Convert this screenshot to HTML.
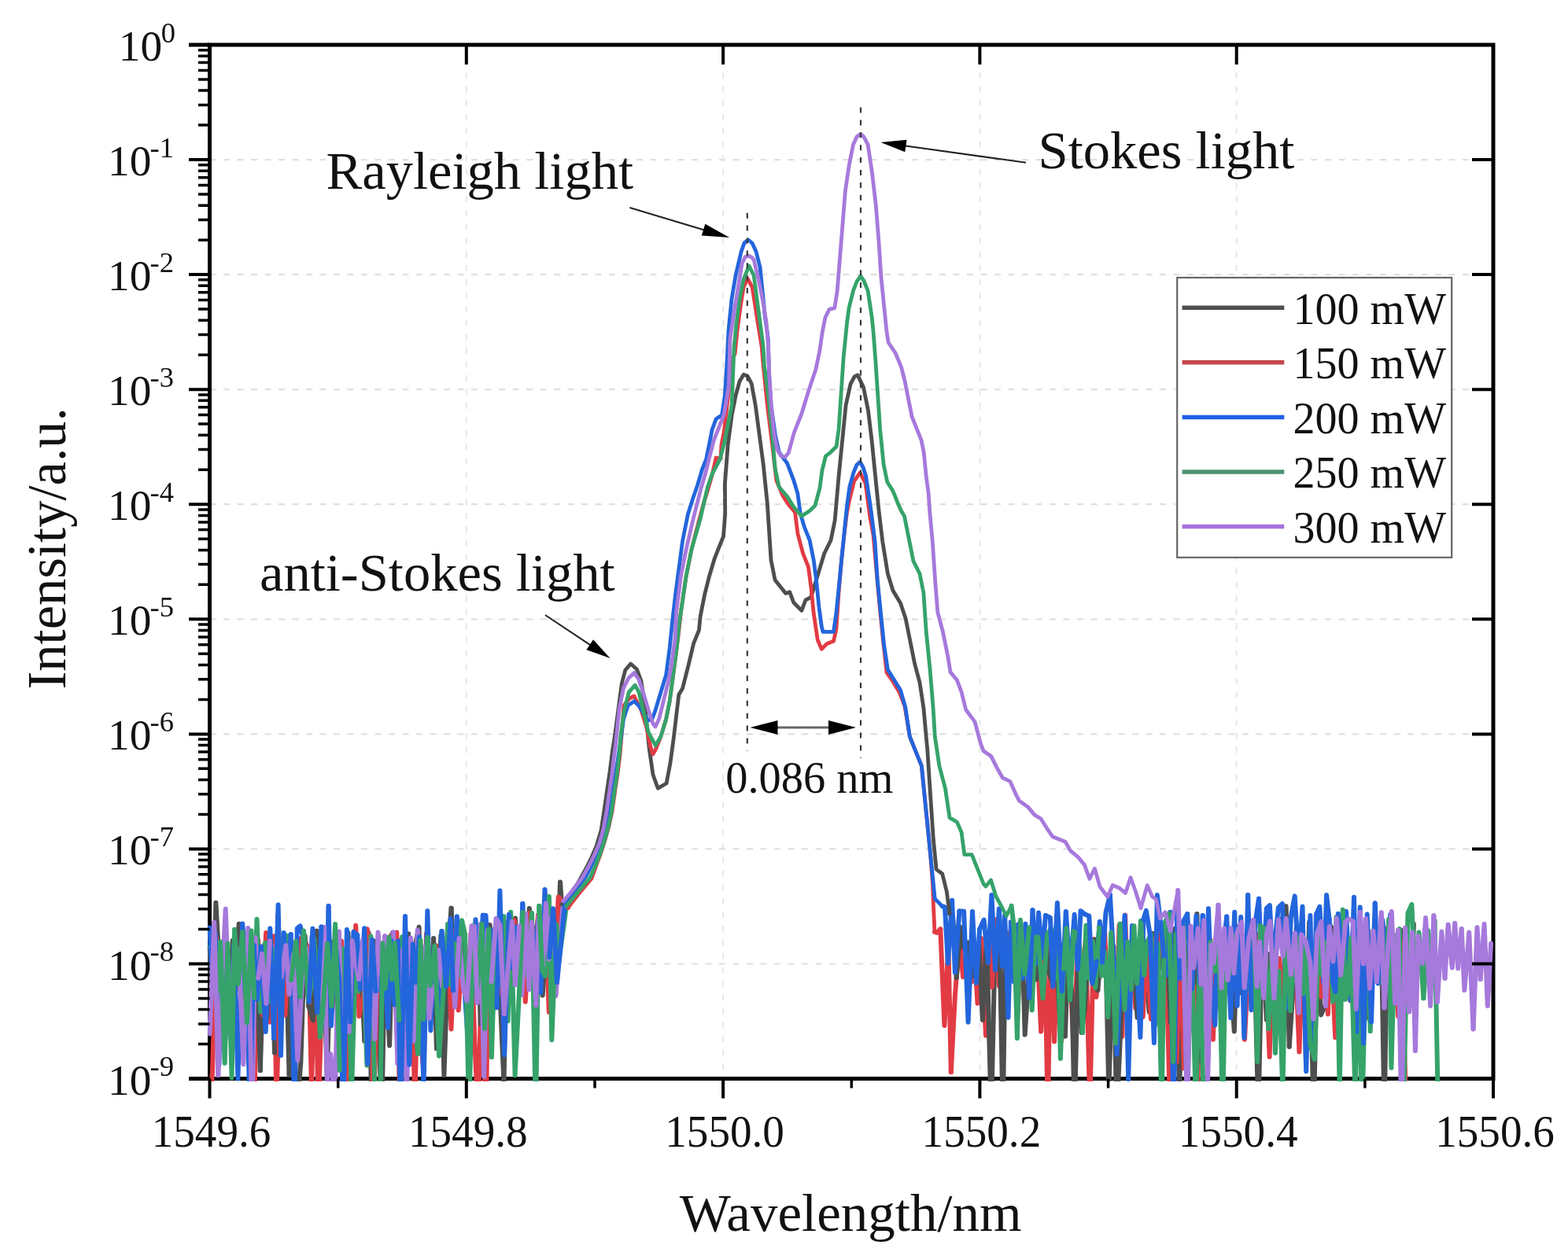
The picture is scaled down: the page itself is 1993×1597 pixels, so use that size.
<!DOCTYPE html>
<html><head><meta charset="utf-8"><style>
html,body{margin:0;padding:0;background:#fff;overflow:hidden;}
svg{display:block;}
text{font-family:"Liberation Serif","Times New Roman",serif;fill:#111;}
.grid{stroke-width:2.2;stroke-dasharray:8 9.5;}
.vd{stroke:#3a3a3a;stroke-width:2.2;stroke-dasharray:7 8.9;}
</style></head><body>
<svg width="1993" height="1597" viewBox="0 0 1993 1597" xmlns="http://www.w3.org/2000/svg">
<rect width="1993" height="1597" fill="#fff"/>
<defs><clipPath id="pc"><rect x="263.5" y="57.0" width="1634.5" height="1318.04"/></clipPath></defs>
<line x1="592.8" y1="57.0" x2="592.8" y2="1371.54" class="grid" stroke="#e9e9e9"/>
<line x1="919.1" y1="57.0" x2="919.1" y2="1371.54" class="grid" stroke="#e9e9e9"/>
<line x1="1245.4" y1="57.0" x2="1245.4" y2="1371.54" class="grid" stroke="#e9e9e9"/>
<line x1="1571.7" y1="57.0" x2="1571.7" y2="1371.54" class="grid" stroke="#e9e9e9"/>
<line x1="266.5" y1="203.1" x2="1898.0" y2="203.1" class="grid" stroke="#e0e0e0"/>
<line x1="266.5" y1="349.1" x2="1898.0" y2="349.1" class="grid" stroke="#e0e0e0"/>
<line x1="266.5" y1="495.2" x2="1898.0" y2="495.2" class="grid" stroke="#e0e0e0"/>
<line x1="266.5" y1="641.2" x2="1898.0" y2="641.2" class="grid" stroke="#e0e0e0"/>
<line x1="266.5" y1="787.3" x2="1898.0" y2="787.3" class="grid" stroke="#e0e0e0"/>
<line x1="266.5" y1="933.4" x2="1898.0" y2="933.4" class="grid" stroke="#e0e0e0"/>
<line x1="266.5" y1="1079.4" x2="1898.0" y2="1079.4" class="grid" stroke="#e0e0e0"/>
<line x1="266.5" y1="1225.5" x2="1898.0" y2="1225.5" class="grid" stroke="#e0e0e0"/>
<path d="M266.5,57.0H1898.0V1371.54H266.5Z" fill="none" stroke="#000" stroke-width="5"/>
<line x1="240" y1="57.0" x2="266.5" y2="57.0" stroke="#000" stroke-width="5"/>
<line x1="240" y1="1371.54" x2="266.5" y2="1371.54" stroke="#000" stroke-width="5"/>
<g clip-path="url(#pc)" fill="none" stroke-width="6" stroke-linejoin="round" stroke-linecap="round">
<path d="M1399.3,1189.9L1404.0,1182.3L1407.9,1274.2L1413.0,1198.0" stroke="#e23b44"/>
<path d="M504.2,1185.8L508.0,1399.1L513.2,1196.4L518.0,1248.4L522.7,1200.0L527.3,1410.4" stroke="#e23b44"/>
<path d="M1433.9,1277.5L1439.7,1218.3L1443.3,1281.9L1448.9,1195.0" stroke="#e23b44"/>
<path d="M330.8,1361.1L335.7,1202.0L339.4,1294.3" stroke="#4d4f4e"/>
<path d="M1769.5,1291.4L1773.2,1210.9L1777.2,1292.2L1780.7,1185.0L1786.2,1372.1" stroke="#e23b44"/>
<path d="M480.7,1199.4L484.7,1303.2L490.1,1195.9L493.3,1247.3L496.8,1189.8" stroke="#e23b44"/>
<path d="M1234.9,1248.4L1238.2,1202.5L1242.5,1275.7L1247.1,1193.0L1253.0,1316.7L1257.2,1196.8" stroke="#e23b44"/>
<path d="M1708.5,1243.8L1714.3,1196.2L1717.6,1244.0L1722.7,1183.5L1727.9,1197.3L1731.9,1244.3" stroke="#4d4f4e"/>
<path d="M1578.5,1188.4L1582.0,1321.7L1587.9,1197.9L1593.7,1237.1" stroke="#e23b44"/>
<path d="M704.4,1160.2L708.0,1232.3L712.0,1121.5L714.0,1150.0" stroke="#4d4f4e"/>
<path d="M599.6,1184.1L603.2,1180.8L607.0,1192.8" stroke="#4d4f4e"/>
<path d="M684.0,1163.4L689.6,1251.1L692.9,1160.9L697.8,1287.0L701.3,1167.4L706.1,1219.5" stroke="#e23b44"/>
<path d="M1374.6,1267.0L1379.9,1193.1L1385.3,1405.8L1390.0,1194.2L1393.5,1267.7L1399.3,1189.9" stroke="#e23b44"/>
<path d="M1701.7,1190.5L1705.5,1251.4L1710.5,1184.4L1716.3,1272.3L1720.5,1188.3L1724.4,1291.0" stroke="#e23b44"/>
<path d="M1259.9,1420.0L1265.1,1184.8L1270.5,1195.3" stroke="#4d4f4e"/>
<path d="M378.7,1329.1L382.4,1193.0L387.4,1196.9" stroke="#e23b44"/>
<path d="M1530.0,1190.5L1535.2,1189.3L1540.6,1231.3L1545.0,1231.6L1548.9,1190.2" stroke="#4d4f4e"/>
<path d="M1669.7,1420.0L1674.5,1202.4L1679.1,1290.4L1685.0,1277.2" stroke="#4d4f4e"/>
<path d="M1278.0,1194.0L1282.3,1234.9L1287.6,1211.4L1291.8,1206.1" stroke="#4d4f4e"/>
<path d="M1475.9,1185.4L1481.4,1189.3L1487.0,1405.6L1490.6,1220.2" stroke="#e23b44"/>
<path d="M1450.4,1179.7L1455.4,1210.6L1460.6,1286.5L1466.1,1187.1" stroke="#4d4f4e"/>
<path d="M1257.2,1196.8L1260.8,1255.1L1265.4,1169.2L1270.0,1253.8L1274.3,1183.0" stroke="#e23b44"/>
<path d="M1488.0,1300.1L1493.7,1180.4L1499.2,1389.6L1503.4,1202.4L1507.0,1274.6" stroke="#4d4f4e"/>
<path d="M598.6,1186.9L603.5,1327.8L607.7,1420.0L612.0,1237.4" stroke="#e23b44"/>
<path d="M640.5,1377.3L644.0,1173.4L649.9,1257.3L655.0,1167.6L658.4,1236.4L662.9,1179.9" stroke="#4d4f4e"/>
<path d="M349.1,1338.4L353.4,1163.7L358.2,1276.0L362.8,1194.2L367.6,1367.0" stroke="#4d4f4e"/>
<path d="M1685.0,1277.2L1690.4,1176.2L1695.1,1183.1L1700.9,1250.4L1704.4,1169.5L1708.5,1243.8" stroke="#4d4f4e"/>
<path d="M1311.7,1238.1L1317.7,1190.0L1323.2,1311.5L1327.8,1194.9L1331.8,1420.0" stroke="#e23b44"/>
<path d="M395.9,1383.1L401.1,1208.2L404.5,1420.0L409.8,1246.4L415.2,1200.1" stroke="#e23b44"/>
<path d="M685.7,1160.7L689.7,1265.6L695.3,1163.6L700.7,1216.9L704.4,1160.2" stroke="#4d4f4e"/>
<path d="M266.5,1204.7L271.0,1310.4L274.4,1147.8L279.8,1245.1L285.0,1197.5" stroke="#4d4f4e"/>
<path d="M387.4,1196.9L392.1,1205.8L395.9,1383.1" stroke="#e23b44"/>
<path d="M1466.1,1187.1L1469.4,1289.8L1473.3,1183.9L1477.2,1230.7" stroke="#4d4f4e"/>
<path d="M496.8,1189.8L500.3,1258.0L504.2,1185.8" stroke="#e23b44"/>
<path d="M573.6,1154.8L579.1,1264.8L584.5,1177.1" stroke="#4d4f4e"/>
<path d="M1724.4,1291.0L1729.0,1187.0L1733.1,1236.9L1738.5,1182.0L1744.2,1247.3L1748.6,1191.7" stroke="#e23b44"/>
<path d="M1500.4,1194.1L1504.7,1358.5L1508.5,1206.2L1513.2,1239.1L1518.8,1199.5L1522.4,1385.3" stroke="#e23b44"/>
<path d="M1207.0,1161.7L1211.0,1164.8L1215.8,1243.3" stroke="#4d4f4e"/>
<path d="M542.0,1187.2L546.8,1250.0L551.1,1201.4L556.4,1203.1" stroke="#e23b44"/>
<path d="M519.0,1187.4L523.1,1288.0L528.7,1197.0" stroke="#4d4f4e"/>
<path d="M1208.8,1363.1L1213.9,1265.8L1219.5,1192.9L1224.1,1242.2L1229.9,1203.8L1234.9,1248.4" stroke="#e23b44"/>
<path d="M1593.7,1237.1L1599.5,1187.6L1604.2,1263.5L1607.7,1196.1L1613.6,1343.7L1617.9,1187.6" stroke="#e23b44"/>
<path d="M1395.3,1259.2L1401.2,1190.5L1406.1,1239.8L1409.3,1386.7L1415.2,1203.5" stroke="#4d4f4e"/>
<path d="M1551.3,1282.2L1555.6,1192.2L1560.8,1259.5L1565.4,1205.4L1569.8,1274.0" stroke="#e23b44"/>
<path d="M556.4,1203.1L561.7,1277.1L565.2,1249.2" stroke="#e23b44"/>
<path d="M434.8,1271.2L438.4,1291.5L442.4,1186.3L446.5,1284.8L450.8,1278.9L454.3,1204.6" stroke="#4d4f4e"/>
<path d="M322.8,1420.0L328.1,1195.3L333.9,1290.2" stroke="#e23b44"/>
<path d="M320.1,1279.0L325.2,1200.8L330.8,1361.1" stroke="#4d4f4e"/>
<path d="M1426.3,1317.6L1430.1,1163.6L1433.9,1277.5" stroke="#e23b44"/>
<path d="M288.6,1283.3L291.9,1210.1L297.6,1293.5L301.5,1182.0L306.1,1214.5L311.5,1331.2" stroke="#e23b44"/>
<path d="M415.2,1200.1L420.4,1276.7L426.3,1255.7L430.5,1307.1L434.0,1196.6L439.3,1396.0" stroke="#e23b44"/>
<path d="M527.3,1410.4L531.4,1202.4L534.6,1320.2L538.7,1364.4L542.0,1187.2" stroke="#e23b44"/>
<path d="M1569.8,1274.0L1575.1,1181.7L1578.5,1188.4" stroke="#e23b44"/>
<path d="M1354.7,1275.9L1359.1,1209.0L1365.0,1342.2L1369.8,1193.2L1374.6,1267.0" stroke="#e23b44"/>
<path d="M333.9,1290.2L338.1,1186.1L342.6,1299.5L347.8,1190.2L351.4,1400.0" stroke="#e23b44"/>
<path d="M1785.1,1188.7L1788.6,1237.3L1793.3,1277.0L1796.9,1175.0" stroke="#4d4f4e"/>
<path d="M1291.8,1206.1L1295.3,1234.0L1299.0,1183.9L1302.7,1315.6L1307.7,1238.1L1311.5,1184.4" stroke="#4d4f4e"/>
<path d="M509.7,1195.2L514.0,1271.4L519.0,1187.4" stroke="#4d4f4e"/>
<path d="M1740.1,1294.9L1744.7,1196.0L1750.3,1247.2" stroke="#4d4f4e"/>
<path d="M1651.3,1246.3L1655.3,1163.3L1660.0,1350.6L1664.1,1172.4L1669.7,1420.0" stroke="#4d4f4e"/>
<path d="M622.4,1176.3L626.9,1235.4L630.3,1206.3L634.7,1245.4L640.5,1377.3" stroke="#4d4f4e"/>
<path d="M439.3,1396.0L444.9,1200.3L448.7,1315.3L452.2,1176.8L456.5,1292.0" stroke="#e23b44"/>
<path d="M551.1,1193.3L554.9,1333.3L560.4,1189.3L564.4,1367.2L570.3,1195.7L573.6,1154.8" stroke="#4d4f4e"/>
<path d="M285.0,1197.5L288.3,1220.3L292.5,1260.1L295.8,1196.1" stroke="#4d4f4e"/>
<path d="M1448.9,1195.0L1452.7,1292.9L1457.1,1207.2L1463.0,1295.5" stroke="#e23b44"/>
<path d="M477.1,1196.7L481.2,1306.8L485.2,1420.0" stroke="#4d4f4e"/>
<path d="M1463.0,1295.5L1467.1,1193.9L1471.2,1246.0L1475.9,1185.4" stroke="#e23b44"/>
<path d="M1274.3,1183.0L1279.1,1185.5L1284.0,1239.0L1287.8,1210.3" stroke="#e23b44"/>
<path d="M662.9,1179.9L668.7,1239.4L672.8,1154.9L676.9,1246.5" stroke="#4d4f4e"/>
<path d="M1195.3,1181.4L1200.4,1304.0L1205.4,1202.2L1208.8,1363.1" stroke="#e23b44"/>
<path d="M588.5,1190.4L594.1,1257.5L598.6,1186.9" stroke="#e23b44"/>
<path d="M1331.8,1420.0L1335.5,1189.3L1340.1,1324.3L1343.9,1216.6L1349.0,1323.8L1354.7,1275.9" stroke="#e23b44"/>
<path d="M1413.0,1198.0L1418.3,1315.8L1422.6,1176.5L1426.3,1317.6" stroke="#e23b44"/>
<path d="M643.6,1249.7L649.0,1168.5L653.9,1169.9L658.5,1250.3" stroke="#e23b44"/>
<path d="M392.3,1279.4L398.0,1297.3L402.6,1183.7" stroke="#4d4f4e"/>
<path d="M612.0,1237.4L617.7,1420.0L621.3,1193.1L626.4,1285.9L631.0,1189.3" stroke="#e23b44"/>
<path d="M1522.4,1385.3L1526.2,1185.6L1530.3,1201.7L1534.3,1250.8" stroke="#e23b44"/>
<path d="M367.6,1367.0L372.2,1207.8L376.9,1420.0" stroke="#4d4f4e"/>
<path d="M1248.9,1296.5L1254.0,1190.3L1259.9,1420.0" stroke="#4d4f4e"/>
<path d="M1534.3,1250.8L1538.4,1195.5L1541.9,1321.6L1546.3,1179.3L1551.3,1282.2" stroke="#e23b44"/>
<path d="M1748.6,1191.7L1751.9,1202.8L1755.6,1244.7L1759.8,1180.1L1763.7,1195.9L1769.5,1291.4" stroke="#e23b44"/>
<path d="M1731.9,1244.3L1736.3,1179.9L1740.1,1294.9" stroke="#4d4f4e"/>
<path d="M351.4,1400.0L357.2,1198.7L362.4,1290.6L367.4,1189.9L373.2,1308.5L378.7,1329.1" stroke="#e23b44"/>
<path d="M1287.8,1210.3L1293.7,1284.2L1297.4,1204.3L1303.1,1235.5L1308.5,1190.2L1311.7,1238.1" stroke="#e23b44"/>
<path d="M266.5,1420.0L270.0,1362.3L275.0,1192.6L278.7,1281.6L283.9,1212.0L288.6,1283.3" stroke="#e23b44"/>
<path d="M528.7,1197.0L532.5,1178.8L536.3,1314.6L542.1,1222.6" stroke="#4d4f4e"/>
<path d="M1636.5,1187.8L1640.7,1254.7L1645.6,1195.7L1651.4,1337.5L1655.8,1209.4" stroke="#e23b44"/>
<path d="M1188.0,1185.0L1191.0,1186.0L1195.3,1181.4" stroke="#e23b44"/>
<path d="M565.2,1249.2L570.2,1208.6L573.5,1308.4L578.7,1182.6L582.7,1284.4L588.5,1190.4" stroke="#e23b44"/>
<path d="M1572.8,1178.4L1578.1,1262.5L1583.8,1202.0L1589.0,1239.0L1594.0,1197.0" stroke="#4d4f4e"/>
<path d="M485.2,1420.0L489.3,1209.7L495.1,1329.4L499.0,1186.1L503.8,1256.7L509.7,1195.2" stroke="#4d4f4e"/>
<path d="M706.1,1219.5L709.7,1140.4L722.0,1154.0" stroke="#e23b44"/>
<path d="M584.5,1177.1L588.5,1196.2L594.2,1270.5L599.6,1184.1" stroke="#4d4f4e"/>
<path d="M339.4,1294.3L344.5,1195.8L349.1,1338.4" stroke="#4d4f4e"/>
<path d="M1230.8,1198.8L1235.7,1241.1L1240.4,1234.0L1244.3,1200.1L1248.9,1296.5" stroke="#4d4f4e"/>
<path d="M1215.8,1243.3L1220.8,1178.8L1224.9,1204.9L1230.8,1198.8" stroke="#4d4f4e"/>
<path d="M402.6,1183.7L407.5,1303.8L410.8,1195.0" stroke="#4d4f4e"/>
<path d="M454.3,1204.6L459.8,1246.3L463.4,1323.7" stroke="#4d4f4e"/>
<path d="M676.9,1246.5L681.8,1180.6L685.7,1160.7" stroke="#4d4f4e"/>
<path d="M463.4,1323.7L468.6,1186.3L472.4,1420.0L477.1,1196.7" stroke="#4d4f4e"/>
<path d="M376.9,1420.0L382.3,1351.5L387.6,1189.7L392.3,1279.4" stroke="#4d4f4e"/>
<path d="M1655.8,1209.4L1660.5,1302.9L1664.8,1205.8L1670.8,1265.1" stroke="#e23b44"/>
<path d="M1270.5,1195.3L1274.7,1420.0L1278.0,1194.0" stroke="#4d4f4e"/>
<path d="M456.5,1292.0L462.4,1264.5L466.8,1181.3L470.2,1204.4L474.8,1420.0L480.7,1199.4" stroke="#e23b44"/>
<path d="M1767.1,1236.6L1771.5,1189.4L1774.8,1244.6L1780.5,1182.5L1785.1,1188.7" stroke="#4d4f4e"/>
<path d="M1353.9,1317.4L1357.6,1207.8L1362.5,1265.6L1365.8,1420.0L1371.0,1187.1L1374.7,1312.8" stroke="#4d4f4e"/>
<path d="M1477.2,1230.7L1482.3,1175.8L1488.0,1300.1" stroke="#4d4f4e"/>
<path d="M1490.6,1220.2L1495.5,1350.1L1500.4,1194.1" stroke="#e23b44"/>
<path d="M1679.5,1267.3L1683.5,1204.8L1687.9,1289.4L1691.3,1192.6L1697.2,1319.0L1701.7,1190.5" stroke="#e23b44"/>
<path d="M1604.4,1182.3L1609.9,1296.7L1613.7,1213.0" stroke="#4d4f4e"/>
<path d="M1638.7,1330.8L1642.3,1277.2L1647.9,1178.1L1651.3,1246.3" stroke="#4d4f4e"/>
<path d="M311.5,1331.2L316.9,1197.9L322.8,1420.0" stroke="#e23b44"/>
<path d="M1617.9,1187.6L1621.1,1254.5L1626.3,1218.8L1630.5,1271.0L1636.5,1187.8" stroke="#e23b44"/>
<path d="M295.8,1196.1L299.7,1260.3L303.7,1174.7L308.7,1257.8L314.3,1201.2L320.1,1279.0" stroke="#4d4f4e"/>
<path d="M1435.0,1258.2L1440.7,1195.9L1445.5,1293.7L1450.4,1179.7" stroke="#4d4f4e"/>
<path d="M658.5,1250.3L663.7,1185.9L667.8,1273.7L673.1,1160.8L678.1,1237.7L684.0,1163.4" stroke="#e23b44"/>
<path d="M410.8,1195.0L415.6,1367.3L421.1,1197.4L424.5,1246.0L429.8,1262.8L434.8,1271.2" stroke="#4d4f4e"/>
<path d="M1311.5,1184.4L1317.2,1245.4L1322.8,1217.0L1328.7,1189.9L1332.8,1235.0L1337.6,1248.1" stroke="#4d4f4e"/>
<path d="M1415.2,1203.5L1419.3,1420.0L1424.0,1316.8L1429.3,1190.1L1435.0,1258.2" stroke="#4d4f4e"/>
<path d="M607.0,1192.8L610.9,1301.9L616.7,1255.8L622.4,1176.3" stroke="#4d4f4e"/>
<path d="M1548.9,1190.2L1553.9,1299.2L1559.7,1190.6L1564.3,1242.8L1568.8,1311.4L1572.8,1178.4" stroke="#4d4f4e"/>
<path d="M1374.7,1312.8L1378.6,1283.3L1383.5,1208.5L1387.3,1231.1L1391.7,1194.4L1395.3,1259.2" stroke="#4d4f4e"/>
<path d="M1507.0,1274.6L1512.6,1181.5L1517.1,1250.9L1521.4,1161.9L1525.5,1348.8L1530.0,1190.5" stroke="#4d4f4e"/>
<path d="M1750.3,1247.2L1755.8,1195.8L1759.6,1420.0L1763.2,1182.5L1767.1,1236.6" stroke="#4d4f4e"/>
<path d="M1594.0,1197.0L1599.4,1417.7L1604.4,1182.3" stroke="#4d4f4e"/>
<path d="M631.0,1189.3L634.5,1262.6L638.4,1185.7L643.6,1249.7" stroke="#e23b44"/>
<path d="M542.1,1222.6L547.2,1286.1L551.1,1193.3" stroke="#4d4f4e"/>
<path d="M1613.7,1213.0L1619.1,1255.1L1624.7,1169.9L1629.1,1170.1L1634.6,1152.2L1638.7,1330.8" stroke="#4d4f4e"/>
<path d="M1337.6,1248.1L1341.9,1196.3L1346.4,1285.6L1350.1,1201.6L1353.9,1317.4" stroke="#4d4f4e"/>
<path d="M1670.8,1265.1L1675.3,1200.2L1679.5,1267.3" stroke="#e23b44"/>
<path d="M358.6,1247.8L364.3,1189.6L370.2,1246.2" stroke="#35a36a"/>
<path d="M664.5,1160.3L670.3,1240.6L676.0,1161.0L680.9,1414.5L685.3,1152.1" stroke="#35a36a"/>
<path d="M343.0,1196.4L348.9,1214.1L354.3,1198.6L357.5,1242.6" stroke="#a679dc"/>
<path d="M664.3,1149.1L667.7,1225.1L673.3,1227.2" stroke="#2365dc"/>
<path d="M1783.7,1420.0L1789.5,1160.9L1794.4,1150.0L1798.8,1253.4L1803.5,1185.6L1809.4,1269.3" stroke="#35a36a"/>
<path d="M1600.0,1142.7L1604.5,1247.8L1609.8,1155.0L1613.9,1151.1L1617.9,1229.1L1621.4,1187.5" stroke="#2365dc"/>
<path d="M1424.1,1243.8L1429.6,1164.0L1434.2,1371.9" stroke="#2365dc"/>
<path d="M1685.4,1198.1L1690.7,1196.8L1694.2,1273.6L1698.5,1165.9L1702.7,1385.8" stroke="#35a36a"/>
<path d="M656.3,1178.8L661.1,1227.1L664.3,1149.1" stroke="#2365dc"/>
<path d="M1566.4,1189.1L1570.3,1236.4L1575.1,1201.2L1580.4,1267.5" stroke="#35a36a"/>
<path d="M369.7,1188.1L374.3,1420.0L377.7,1180.3L381.5,1177.4L387.1,1198.3L392.8,1273.5" stroke="#2365dc"/>
<path d="M1410.9,1138.0L1415.7,1223.3L1419.6,1340.6L1424.1,1243.8" stroke="#2365dc"/>
<path d="M1354.8,1159.2L1360.1,1233.5L1365.7,1162.7L1369.9,1232.4" stroke="#2365dc"/>
<path d="M1602.0,1177.5L1607.6,1181.3L1612.2,1308.0L1617.2,1208.5L1620.9,1338.7" stroke="#35a36a"/>
<path d="M673.3,1227.2L678.9,1223.5L684.0,1170.5L687.3,1262.1L692.5,1131.0L698.3,1216.9" stroke="#2365dc"/>
<path d="M1737.0,1182.4L1741.7,1311.1L1745.6,1183.1" stroke="#35a36a"/>
<path d="M507.3,1297.0L511.1,1191.2L516.8,1341.5L521.5,1197.9L527.1,1305.9L531.3,1339.8" stroke="#35a36a"/>
<path d="M442.5,1218.9L446.8,1395.3L452.2,1203.0L455.7,1260.4L461.4,1203.9" stroke="#35a36a"/>
<path d="M1312.5,1157.3L1316.5,1226.1L1320.1,1160.6L1324.8,1217.5L1328.9,1164.1" stroke="#2365dc"/>
<path d="M505.4,1352.2L511.3,1208.8L516.9,1392.4L522.0,1192.4L525.7,1323.4" stroke="#a679dc"/>
<path d="M273.8,1187.1L278.4,1353.6L283.3,1199.1L288.6,1311.8L293.9,1298.7L297.2,1202.7" stroke="#2365dc"/>
<path d="M1434.2,1371.9L1439.0,1177.1L1444.7,1222.6L1449.4,1318.8L1453.4,1169.0" stroke="#2365dc"/>
<path d="M277.3,1367.1L281.8,1255.6L286.7,1155.8L292.4,1319.8L297.8,1205.8L303.4,1207.7" stroke="#a679dc"/>
<path d="M1559.2,1165.4L1564.3,1294.1L1569.2,1159.7L1572.5,1278.6" stroke="#2365dc"/>
<path d="M1364.6,1184.2L1369.1,1186.9L1372.7,1207.0L1376.0,1313.0" stroke="#35a36a"/>
<path d="M1308.1,1179.6L1311.7,1284.5L1315.4,1191.7L1319.5,1191.4L1325.5,1269.3L1331.1,1188.7" stroke="#35a36a"/>
<path d="M489.2,1190.2L494.6,1263.5L499.9,1185.2L505.4,1352.2" stroke="#a679dc"/>
<path d="M576.1,1259.3L580.8,1165.2L586.2,1239.4L589.7,1245.6L595.7,1337.0" stroke="#2365dc"/>
<path d="M595.7,1337.0L600.3,1255.5L604.5,1169.2L608.6,1240.9L613.8,1163.8" stroke="#2365dc"/>
<path d="M538.5,1381.1L543.3,1158.3L547.4,1310.2L551.8,1204.0L557.3,1283.9L561.5,1183.9" stroke="#2365dc"/>
<path d="M372.9,1213.4L378.3,1348.0L384.1,1245.3L389.0,1204.7L393.1,1261.0L396.6,1191.1" stroke="#a679dc"/>
<path d="M1823.5,1170.7L1828.1,1420.0" stroke="#35a36a"/>
<path d="M408.5,1178.4L414.4,1289.2L417.6,1152.1" stroke="#2365dc"/>
<path d="M1499.5,1230.3L1504.9,1176.0L1508.9,1420.0" stroke="#35a36a"/>
<path d="M445.2,1299.3L449.4,1184.7L454.2,1189.1" stroke="#2365dc"/>
<path d="M266.5,1203.8L270.8,1201.7L276.2,1261.3L280.1,1197.4" stroke="#35a36a"/>
<path d="M629.7,1179.6L633.2,1253.2L636.9,1168.7L640.2,1165.3" stroke="#35a36a"/>
<path d="M1397.1,1179.8L1400.4,1240.7L1404.3,1210.3L1408.2,1293.0L1412.2,1185.8L1418.0,1326.3" stroke="#35a36a"/>
<path d="M701.1,1166.6L706.5,1266.2L716.0,1146.0" stroke="#a679dc"/>
<path d="M613.8,1163.8L617.5,1164.0L622.9,1275.7L627.2,1182.6L631.5,1281.0" stroke="#2365dc"/>
<path d="M591.0,1188.1L596.3,1420.0L601.4,1176.5L607.1,1254.2" stroke="#35a36a"/>
<path d="M1689.6,1169.1L1694.1,1248.9L1697.3,1260.6" stroke="#2365dc"/>
<path d="M1331.1,1188.7L1335.9,1180.4L1340.6,1244.7" stroke="#35a36a"/>
<path d="M659.9,1177.7L663.4,1264.9L668.1,1162.1L672.3,1258.3L675.7,1172.7L681.4,1277.8" stroke="#a679dc"/>
<path d="M341.2,1273.6L345.3,1205.7L348.8,1249.1L354.1,1188.9L358.6,1247.8" stroke="#35a36a"/>
<path d="M477.4,1260.3L482.1,1257.7L487.6,1198.7" stroke="#2365dc"/>
<path d="M323.2,1268.7L326.5,1168.7L331.2,1286.4L337.2,1198.8L341.2,1273.6" stroke="#35a36a"/>
<path d="M1539.9,1261.9L1544.3,1303.4L1548.1,1176.2L1553.4,1221.6L1559.2,1165.4" stroke="#2365dc"/>
<path d="M487.6,1198.7L493.1,1306.6L497.3,1196.3L501.4,1277.4L505.8,1196.7" stroke="#2365dc"/>
<path d="M1197.7,1152.3L1201.0,1153.4L1204.9,1224.9L1210.1,1144.7L1213.9,1236.6L1219.4,1158.5" stroke="#2365dc"/>
<path d="M1673.0,1162.8L1677.4,1152.8L1682.2,1248.8L1686.1,1138.0L1689.6,1169.1" stroke="#2365dc"/>
<path d="M1635.6,1281.8L1640.8,1166.3L1645.7,1139.4L1651.1,1226.9" stroke="#2365dc"/>
<path d="M1651.1,1226.9L1655.5,1152.7L1660.2,1362.1L1665.4,1163.9L1669.1,1335.8L1673.0,1162.8" stroke="#2365dc"/>
<path d="M434.6,1342.4L439.1,1217.5L443.6,1311.9L447.6,1195.9L451.9,1223.8L456.1,1245.1" stroke="#a679dc"/>
<path d="M1393.9,1222.4L1397.8,1171.7L1401.1,1223.5L1405.5,1160.4L1410.9,1138.0" stroke="#2365dc"/>
<path d="M386.0,1183.8L391.9,1271.2L395.2,1257.1" stroke="#35a36a"/>
<path d="M1273.8,1228.4L1277.2,1163.5L1281.5,1293.7L1284.9,1172.5" stroke="#2365dc"/>
<path d="M1245.2,1181.4L1250.6,1169.6L1255.9,1224.0L1260.4,1138.0L1265.0,1233.1" stroke="#2365dc"/>
<path d="M525.7,1323.4L530.7,1182.5L536.0,1241.5" stroke="#a679dc"/>
<path d="M331.7,1203.7L337.7,1311.8L343.3,1180.6L348.1,1320.1" stroke="#2365dc"/>
<path d="M1580.4,1267.5L1585.7,1187.9L1589.4,1261.7L1593.7,1175.0" stroke="#35a36a"/>
<path d="M606.6,1274.7L610.8,1175.1L615.1,1368.8L619.9,1183.1L624.5,1248.2" stroke="#a679dc"/>
<path d="M1665.4,1328.2L1670.9,1346.9L1675.8,1188.8L1680.5,1239.6L1685.4,1198.1" stroke="#35a36a"/>
<path d="M536.0,1241.5L540.4,1203.3L545.5,1294.8" stroke="#a679dc"/>
<path d="M396.6,1191.1L402.5,1249.7L408.5,1281.9" stroke="#a679dc"/>
<path d="M1722.7,1398.5L1726.4,1196.2L1731.2,1420.0L1737.0,1182.4" stroke="#35a36a"/>
<path d="M461.4,1203.9L466.4,1354.6L471.4,1190.5L477.2,1420.0" stroke="#35a36a"/>
<path d="M357.0,1341.7L360.7,1186.0L366.3,1247.7L369.7,1188.1" stroke="#2365dc"/>
<path d="M1621.4,1187.5L1624.8,1154.2L1629.9,1149.2L1635.6,1281.8" stroke="#2365dc"/>
<path d="M1479.4,1215.2L1483.4,1240.0L1487.3,1159.7L1491.6,1420.0L1496.2,1159.1" stroke="#2365dc"/>
<path d="M454.2,1189.1L458.1,1257.5L463.2,1180.6" stroke="#2365dc"/>
<path d="M320.4,1420.0L324.4,1192.0L328.0,1243.7" stroke="#a679dc"/>
<path d="M640.2,1165.3L645.6,1298.2L649.2,1159.8L654.6,1367.3L659.6,1268.5L664.5,1160.3" stroke="#35a36a"/>
<path d="M607.1,1254.2L612.5,1174.8L616.1,1308.0L621.2,1181.5L624.9,1344.1L629.7,1179.6" stroke="#35a36a"/>
<path d="M322.6,1202.1L326.9,1270.9L331.7,1203.7" stroke="#2365dc"/>
<path d="M1620.9,1338.7L1625.5,1234.7L1630.4,1389.6L1634.7,1170.2" stroke="#35a36a"/>
<path d="M1472.1,1200.6L1476.6,1414.1L1480.0,1174.1L1485.6,1161.8" stroke="#35a36a"/>
<path d="M1433.5,1198.1L1438.0,1258.2L1441.5,1177.3L1445.1,1250.4L1449.9,1170.9L1454.3,1239.4" stroke="#35a36a"/>
<path d="M1520.0,1409.2L1525.5,1184.7L1529.7,1416.9" stroke="#35a36a"/>
<path d="M583.7,1193.0L588.7,1256.4L593.5,1272.5L599.4,1177.4L602.9,1178.0L606.6,1274.7" stroke="#a679dc"/>
<path d="M1745.6,1183.1L1749.5,1191.4L1753.3,1249.8L1756.6,1184.0L1761.3,1246.9" stroke="#35a36a"/>
<path d="M1418.0,1326.3L1423.6,1174.5L1429.4,1283.7L1433.5,1198.1" stroke="#35a36a"/>
<path d="M505.8,1196.7L509.0,1417.2L515.0,1165.3" stroke="#2365dc"/>
<path d="M1809.4,1269.3L1815.2,1183.2L1819.5,1248.4L1823.5,1170.7" stroke="#35a36a"/>
<path d="M1572.5,1278.6L1577.2,1165.9L1581.4,1319.5L1586.2,1138.1" stroke="#2365dc"/>
<path d="M1485.6,1161.8L1491.2,1350.0L1494.6,1187.5L1499.5,1230.3" stroke="#35a36a"/>
<path d="M1747.7,1148.4L1751.6,1250.3L1757.3,1169.8L1762.9,1225.8L1767.3,1162.7" stroke="#2365dc"/>
<path d="M1544.2,1234.9L1549.0,1182.3L1554.1,1420.0L1557.9,1206.5L1562.5,1238.7L1566.4,1189.1" stroke="#35a36a"/>
<path d="M476.4,1320.8L480.5,1185.6L485.3,1240.6L489.2,1190.2" stroke="#a679dc"/>
<path d="M408.5,1281.9L412.4,1178.9L415.7,1376.3" stroke="#a679dc"/>
<path d="M357.5,1242.6L363.4,1202.1L367.5,1264.1L372.9,1213.4" stroke="#a679dc"/>
<path d="M1294.2,1175.5L1299.8,1244.1L1303.4,1174.7L1308.3,1268.9L1312.5,1157.3" stroke="#2365dc"/>
<path d="M1384.4,1244.2L1388.9,1196.7L1392.2,1255.5L1397.1,1179.8" stroke="#35a36a"/>
<path d="M1706.2,1222.0L1711.0,1158.8L1716.4,1271.7L1721.0,1140.8L1724.3,1311.7" stroke="#2365dc"/>
<path d="M693.0,1240.9L697.9,1140.0L701.3,1322.2L707.1,1175.6L710.5,1220.6L720.0,1152.0" stroke="#35a36a"/>
<path d="M681.4,1277.8L684.7,1164.4L689.6,1230.1L693.9,1148.4L697.7,1219.3L701.1,1166.6" stroke="#a679dc"/>
<path d="M1496.2,1159.1L1500.0,1244.2L1503.7,1172.2L1509.2,1162.2" stroke="#2365dc"/>
<path d="M431.8,1360.6L435.1,1206.3L438.9,1262.1L442.5,1218.9" stroke="#35a36a"/>
<path d="M328.0,1243.7L332.9,1212.6L338.4,1276.0L343.0,1196.4" stroke="#a679dc"/>
<path d="M415.7,1376.3L420.3,1340.3L425.6,1404.5L430.9,1184.5L434.6,1342.4" stroke="#a679dc"/>
<path d="M524.9,1200.8L528.7,1249.2L532.8,1191.2L538.5,1381.1" stroke="#2365dc"/>
<path d="M1340.6,1244.7L1344.4,1179.8L1347.9,1345.9L1351.9,1231.9" stroke="#35a36a"/>
<path d="M456.1,1245.1L461.4,1194.0L466.8,1322.0" stroke="#a679dc"/>
<path d="M395.2,1257.1L399.4,1193.8L403.2,1249.0L406.9,1318.4" stroke="#35a36a"/>
<path d="M417.6,1152.1L421.0,1304.2L426.1,1197.4L431.4,1246.3L436.4,1420.0" stroke="#2365dc"/>
<path d="M698.3,1216.9L703.1,1155.2L708.0,1249.1L718.0,1150.0" stroke="#2365dc"/>
<path d="M498.4,1245.2L501.7,1198.9L507.3,1297.0" stroke="#35a36a"/>
<path d="M1508.9,1420.0L1514.0,1184.8L1520.0,1409.2" stroke="#35a36a"/>
<path d="M1328.9,1164.1L1334.9,1166.7L1338.4,1254.3L1343.9,1148.1L1349.8,1260.1L1354.8,1159.2" stroke="#2365dc"/>
<path d="M297.2,1202.7L302.4,1371.6L308.2,1174.4L313.8,1251.2L317.7,1420.0L322.6,1202.1" stroke="#2365dc"/>
<path d="M1509.2,1162.2L1514.9,1257.6L1520.4,1164.6L1525.4,1249.7L1528.7,1164.0" stroke="#2365dc"/>
<path d="M348.1,1320.1L353.6,1150.6L357.0,1341.7" stroke="#2365dc"/>
<path d="M565.4,1197.3L569.8,1244.4L574.0,1207.0" stroke="#a679dc"/>
<path d="M1528.7,1164.0L1532.0,1258.1L1536.0,1155.3L1539.9,1261.9" stroke="#2365dc"/>
<path d="M515.0,1165.3L520.2,1353.7L524.9,1200.8" stroke="#2365dc"/>
<path d="M1652.7,1191.2L1656.6,1263.4L1660.1,1203.5L1665.4,1328.2" stroke="#35a36a"/>
<path d="M1454.3,1239.4L1457.9,1198.2L1462.9,1187.8L1468.7,1302.7L1472.1,1200.6" stroke="#35a36a"/>
<path d="M1265.0,1233.1L1269.9,1155.4L1273.8,1228.4" stroke="#2365dc"/>
<path d="M545.5,1294.8L550.0,1254.1L553.6,1261.0L557.4,1208.0L562.2,1254.3L565.4,1197.3" stroke="#a679dc"/>
<path d="M303.4,1207.7L309.4,1353.2L315.3,1179.9L320.4,1420.0" stroke="#a679dc"/>
<path d="M1376.0,1313.0L1380.4,1176.8L1384.4,1244.2" stroke="#35a36a"/>
<path d="M1761.3,1246.9L1765.2,1168.9L1768.4,1357.7L1773.0,1196.4L1778.7,1181.0L1783.7,1420.0" stroke="#35a36a"/>
<path d="M1219.4,1158.5L1225.1,1158.8L1230.6,1299.7L1236.0,1159.1L1240.8,1249.8L1245.2,1181.4" stroke="#2365dc"/>
<path d="M631.5,1281.0L635.4,1132.5L641.1,1341.1L646.8,1162.8L651.3,1230.4L656.3,1178.8" stroke="#2365dc"/>
<path d="M546.9,1252.9L552.5,1202.4L558.1,1342.4" stroke="#35a36a"/>
<path d="M1724.3,1311.7L1728.7,1153.5L1733.0,1326.3L1737.7,1162.4L1743.0,1299.4L1747.7,1148.4" stroke="#2365dc"/>
<path d="M1284.9,1172.5L1288.5,1248.1L1294.2,1175.5" stroke="#2365dc"/>
<path d="M1702.7,1385.8L1706.7,1156.7L1710.0,1270.8L1713.4,1262.1L1716.9,1193.3L1722.7,1398.5" stroke="#35a36a"/>
<path d="M640.8,1288.9L645.5,1233.3L650.9,1171.7L654.9,1252.2L659.9,1177.7" stroke="#a679dc"/>
<path d="M624.5,1248.2L630.5,1167.9L635.4,1176.1L640.8,1288.9" stroke="#a679dc"/>
<path d="M569.3,1175.1L573.0,1252.2L577.2,1199.6L582.3,1240.5L587.1,1170.3L591.0,1188.1" stroke="#35a36a"/>
<path d="M466.8,1322.0L471.9,1196.6L476.4,1320.8" stroke="#a679dc"/>
<path d="M1453.4,1169.0L1456.8,1157.8L1461.9,1189.2" stroke="#2365dc"/>
<path d="M685.3,1152.1L689.3,1234.4L693.0,1240.9" stroke="#35a36a"/>
<path d="M1586.2,1138.1L1590.4,1284.2L1595.5,1173.2L1600.0,1142.7" stroke="#2365dc"/>
<path d="M477.2,1420.0L483.1,1420.0L486.4,1199.6L489.8,1256.9L494.6,1191.6L498.4,1245.2" stroke="#35a36a"/>
<path d="M392.8,1273.5L397.4,1180.8L403.2,1287.4L408.5,1178.4" stroke="#2365dc"/>
<path d="M574.0,1207.0L578.2,1280.5L583.7,1193.0" stroke="#a679dc"/>
<path d="M531.3,1339.8L534.5,1195.5L538.0,1296.0L543.4,1192.0L546.9,1252.9" stroke="#35a36a"/>
<path d="M558.1,1342.4L563.8,1258.1L569.3,1175.1" stroke="#35a36a"/>
<path d="M1285.6,1151.7L1289.0,1180.3L1292.9,1320.1L1297.0,1169.7L1302.3,1238.6L1308.1,1179.6" stroke="#35a36a"/>
<path d="M280.1,1197.4L285.7,1351.8L289.4,1199.6L294.6,1370.4L298.1,1182.1" stroke="#35a36a"/>
<path d="M266.5,1179.8L269.9,1245.8L273.8,1187.1" stroke="#2365dc"/>
<path d="M1593.7,1175.0L1598.3,1349.9L1602.0,1177.5" stroke="#35a36a"/>
<path d="M298.1,1182.1L302.6,1251.1L308.2,1184.9L314.0,1300.2L319.5,1183.6L323.2,1268.7" stroke="#35a36a"/>
<path d="M1369.9,1232.4L1373.6,1158.2L1379.0,1162.5" stroke="#2365dc"/>
<path d="M1461.9,1189.2L1466.9,1326.0L1470.9,1138.0L1475.0,1172.4L1479.4,1215.2" stroke="#2365dc"/>
<path d="M1634.7,1170.2L1640.3,1285.2L1645.8,1187.3L1649.0,1254.8L1652.7,1191.2" stroke="#35a36a"/>
<path d="M436.4,1420.0L440.9,1181.9L445.2,1299.3" stroke="#2365dc"/>
<path d="M406.9,1318.4L410.2,1288.9L416.2,1199.8L421.6,1279.2L426.1,1175.0L431.8,1360.6" stroke="#35a36a"/>
<path d="M1697.3,1260.6L1700.9,1161.8L1706.2,1222.0" stroke="#2365dc"/>
<path d="M370.2,1246.2L376.1,1196.8L381.5,1267.6L386.0,1183.8" stroke="#35a36a"/>
<path d="M266.5,1314.5L272.3,1172.8L277.3,1367.1" stroke="#a679dc"/>
<path d="M1351.9,1231.9L1355.4,1180.2L1360.1,1271.3L1364.6,1184.2" stroke="#35a36a"/>
<path d="M561.5,1183.9L567.0,1254.5L572.8,1167.9L576.1,1259.3" stroke="#2365dc"/>
<path d="M463.2,1180.6L467.4,1352.6L473.0,1194.8L477.4,1260.3" stroke="#2365dc"/>
<path d="M1379.0,1162.5L1384.3,1164.6L1388.3,1250.4L1393.9,1222.4" stroke="#2365dc"/>
<path d="M1529.7,1416.9L1533.3,1420.0L1538.5,1198.1L1544.2,1234.9" stroke="#35a36a"/>
<path d="M1548.5,1150.8L1552.5,1256.0L1556.0,1180.6L1560.7,1245.8" stroke="#a679dc"/>
<path d="M1719.9,1171.7L1723.7,1282.8L1728.9,1159.8L1732.8,1225.3" stroke="#a679dc"/>
<path d="M1497.2,1132.1L1500.0,1215.7L1503.7,1180.0L1509.2,1420.0L1513.4,1177.8" stroke="#a679dc"/>
<path d="M1614.3,1171.6L1619.4,1269.3L1624.9,1169.4L1630.6,1215.9L1634.8,1167.8L1640.7,1239.1" stroke="#a679dc"/>
<path d="M1836.5,1243.8L1840.7,1175.5L1845.8,1230.5L1849.2,1173.7L1853.2,1231.4L1857.7,1181.2" stroke="#a679dc"/>
<path d="M1669.5,1295.3L1674.1,1187.2L1679.4,1171.9L1685.0,1279.0" stroke="#a679dc"/>
<path d="M1822.4,1164.3L1826.9,1274.3L1832.4,1184.6L1836.5,1243.8" stroke="#a679dc"/>
<path d="M1791.1,1286.3L1795.2,1185.6L1798.9,1336.1L1802.5,1190.6" stroke="#a679dc"/>
<path d="M1581.7,1255.7L1587.2,1194.3L1592.9,1170.1" stroke="#a679dc"/>
<path d="M1560.7,1245.8L1564.5,1180.3L1568.3,1237.4L1572.4,1186.2L1578.1,1172.4L1581.7,1255.7" stroke="#a679dc"/>
<path d="M1802.5,1190.6L1808.2,1224.9L1812.1,1166.9L1818.1,1278.9L1822.4,1164.3" stroke="#a679dc"/>
<path d="M1685.0,1279.0L1689.7,1178.1L1694.4,1222.4L1698.9,1167.4L1704.2,1239.8L1710.2,1172.1" stroke="#a679dc"/>
<path d="M1749.9,1248.0L1755.8,1160.2L1759.5,1281.3" stroke="#a679dc"/>
<path d="M1513.4,1177.8L1517.3,1230.6L1523.0,1180.3L1526.8,1251.5" stroke="#a679dc"/>
<path d="M1881.7,1245.0L1886.6,1175.0L1890.8,1279.0L1895.1,1199.5" stroke="#a679dc"/>
<path d="M1857.7,1181.2L1861.4,1259.0L1867.3,1185.4L1872.6,1308.3" stroke="#a679dc"/>
<path d="M1773.2,1275.5L1776.9,1182.4L1781.4,1420.0L1786.1,1179.8L1791.1,1286.3" stroke="#a679dc"/>
<path d="M1592.9,1170.1L1597.5,1254.3L1600.9,1197.6L1606.2,1269.0L1610.1,1186.0L1614.3,1171.6" stroke="#a679dc"/>
<path d="M1710.2,1172.1L1714.2,1168.4L1719.9,1171.7" stroke="#a679dc"/>
<path d="M1640.7,1239.1L1645.9,1186.6L1650.7,1287.7L1654.1,1188.3L1659.7,1197.3" stroke="#a679dc"/>
<path d="M1872.6,1308.3L1877.5,1179.2L1881.7,1245.0" stroke="#a679dc"/>
<path d="M1759.5,1281.3L1764.4,1204.7L1768.8,1159.1L1773.2,1275.5" stroke="#a679dc"/>
<path d="M1526.8,1251.5L1530.3,1170.5L1535.1,1374.7L1539.4,1201.5L1542.7,1224.1L1548.5,1150.8" stroke="#a679dc"/>
<path d="M1732.8,1225.3L1736.1,1168.0L1740.9,1256.7L1745.5,1183.7L1749.9,1248.0" stroke="#a679dc"/>
<path d="M1659.7,1197.3L1665.3,1223.3L1669.5,1295.3" stroke="#a679dc"/>
<path d="M714.0,1150.0L724.0,1138.0L735.0,1122.0L745.0,1104.0L752.0,1090.0L758.0,1076.0L764.0,1056.0L768.0,1030.0L772.0,1002.0L775.0,982.0L778.0,958.0L781.3,936.6L785.8,902.8L790.3,869.0L794.8,852.0L801.6,844.0L809.5,851.0L815.0,866.0L820.0,900.0L825.2,952.2L830.0,985.0L836.2,1002.3L847.1,996.0L852.0,970.0L856.5,936.5L862.8,883.3L867.5,875.5L874.9,846.4L881.6,818.2L888.4,801.3L890.2,783.5L895.8,755.3L901.5,732.7L908.2,710.2L912.7,698.9L919.5,682.0L921.7,653.8L921.4,615.3L925.2,565.2L930.2,527.7L935.2,502.6L940.0,485.0L945.2,476.3L950.0,478.0L955.2,487.6L960.2,515.1L965.2,552.7L970.2,590.3L975.3,640.0L976.7,661.4L980.0,712.1L985.1,737.5L991.9,745.9L998.7,754.4L1003.7,752.7L1008.8,766.2L1018.9,776.3L1024.0,762.8L1030.8,759.4L1037.5,737.5L1042.6,720.6L1047.7,703.7L1056.1,686.8L1061.2,661.4L1066.1,605.3L1070.6,560.2L1075.1,515.2L1081.1,488.1L1086.0,479.0L1090.1,476.9L1097.6,492.6L1103.6,522.7L1108.1,560.2L1112.6,605.3L1117.1,650.0L1121.8,688.8L1128.4,729.5L1134.9,750.7L1144.6,767.0L1151.1,786.5L1156.0,810.9L1162.5,843.4L1169.0,867.9L1173.9,900.0L1178.9,955.1L1182.6,1011.5L1186.4,1067.8L1190.1,1105.4L1197.7,1111.0L1203.3,1133.5L1207.0,1161.7" stroke="#4d4f4e" stroke-width="4.8"/>
<path d="M722.0,1154.0L736.0,1136.0L752.0,1117.0L758.0,1100.0L764.0,1084.0L769.0,1068.0L774.0,1050.0L778.0,1032.0L782.0,1004.0L785.0,984.0L788.0,960.0L790.0,935.0L793.0,897.0L800.0,888.0L806.0,885.0L815.0,903.0L821.9,925.3L826.4,947.9L829.8,959.0L833.1,953.5L839.9,936.6L846.7,914.0L851.2,891.5L855.7,857.7L860.2,823.8L863.1,800.0L865.4,777.8L872.1,732.7L878.9,698.9L885.0,675.0L893.6,642.5L899.0,625.0L905.1,604.0L910.1,582.0L916.0,583.0L917.0,565.0L920.1,550.0L926.0,500.0L931.0,455.0L934.1,450.0L937.1,420.3L941.1,390.2L945.1,365.2L950.1,354.0L956.1,365.2L960.1,390.2L963.1,410.2L968.1,440.3L970.2,465.0L975.3,515.0L981.5,565.0L986.8,610.7L995.3,631.0L1002.0,641.1L1010.5,651.3L1013.9,678.3L1020.6,703.7L1027.4,720.6L1030.8,745.9L1034.2,779.7L1039.2,813.5L1044.3,825.3L1051.0,818.6L1059.5,815.2L1062.9,800.0L1066.3,750.0L1069.6,712.0L1073.0,680.0L1076.4,652.0L1079.6,636.0L1085.6,612.0L1093.0,601.0L1100.0,614.0L1105.6,656.3L1110.0,680.0L1113.5,720.0L1118.0,770.0L1122.0,810.0L1127.0,855.0L1134.0,865.0L1143.0,880.0L1150.0,898.0L1156.3,936.3L1163.8,955.1L1171.4,973.9L1175.1,1011.5L1178.9,1049.0L1182.6,1086.6L1185.5,1124.1L1186.4,1150.0L1188.0,1185.0" stroke="#e23b44" stroke-width="4.8"/>
<path d="M718.0,1150.0L730.0,1134.0L745.0,1114.0L753.0,1098.0L760.0,1083.0L766.0,1068.0L771.0,1050.0L775.0,1032.0L779.0,1004.0L782.0,986.0L784.7,970.0L788.0,947.9L792.6,914.0L798.2,897.1L806.1,891.5L812.8,898.2L818.5,908.4L824.0,916.0L829.0,914.0L833.1,902.8L839.9,880.2L846.7,857.7L851.2,823.8L854.6,790.0L858.6,755.3L863.1,721.5L867.6,687.6L874.4,653.8L881.3,632.0L886.3,617.8L892.6,596.5L897.6,584.0L901.4,565.2L905.1,546.4L910.1,532.7L917.6,527.7L921.4,502.6L924.0,460.0L926.0,420.3L930.0,380.2L935.1,350.1L942.1,320.0L946.0,309.0L951.1,305.0L956.0,309.0L961.1,320.0L966.1,340.0L969.1,370.0L972.1,400.2L976.2,430.3L977.8,480.0L980.0,515.0L985.3,552.7L990.2,575.0L1000.4,588.7L1008.8,610.7L1013.9,627.6L1017.3,653.0L1022.3,669.9L1029.1,686.8L1034.2,712.1L1037.5,737.5L1040.9,771.3L1044.3,796.6L1046.0,803.4L1059.5,803.4L1062.9,779.7L1066.3,745.9L1069.6,712.1L1073.0,678.3L1076.4,644.5L1079.8,619.2L1084.9,601.0L1089.0,591.0L1093.1,587.3L1097.0,594.0L1100.6,605.3L1105.1,635.4L1107.2,650.0L1112.1,688.8L1115.3,737.7L1120.2,786.5L1123.5,819.0L1128.4,851.6L1136.5,864.6L1144.6,877.6L1150.7,898.8L1156.3,936.3L1163.8,955.1L1171.4,973.9L1175.1,1011.5L1178.9,1049.0L1182.6,1086.6L1186.4,1124.1L1188.3,1142.9L1197.7,1152.3" stroke="#2365dc" stroke-width="4.8"/>
<path d="M720.0,1152.0L733.0,1136.0L750.0,1116.0L757.0,1100.0L763.0,1085.0L768.0,1070.0L773.0,1052.0L777.0,1034.0L781.0,1006.0L784.0,986.0L787.0,962.0L789.0,935.0L793.0,905.0L799.3,880.2L807.2,871.2L812.0,880.0L817.4,902.8L824.1,930.9L833.1,947.9L839.9,936.6L846.7,914.0L851.2,891.5L855.7,857.7L860.2,823.8L863.6,790.0L866.0,775.0L872.1,732.7L878.9,698.9L890.2,659.5L899.2,620.0L905.1,602.8L915.1,584.0L920.1,565.2L923.9,546.4L930.2,515.0L931.5,480.0L933.1,440.3L936.1,410.2L940.1,380.2L945.1,355.1L952.1,338.0L958.1,350.0L962.1,380.2L966.1,410.2L970.1,440.3L971.5,465.0L976.5,502.6L981.5,552.7L985.1,595.0L990.2,619.2L1000.4,631.0L1008.8,644.5L1018.9,656.3L1029.1,649.6L1036.0,642.9L1042.0,620.3L1045.0,597.8L1049.5,579.8L1055.5,575.3L1063.1,567.8L1066.1,545.2L1069.1,500.1L1072.1,455.1L1076.6,410.0L1079.0,392.0L1084.5,369.7L1089.0,358.0L1093.8,351.1L1098.0,357.0L1103.1,369.7L1108.2,403.5L1109.9,420.0L1112.6,455.1L1115.6,500.1L1118.6,545.2L1123.1,590.3L1127.7,612.8L1135.2,624.8L1141.2,639.9L1145.7,650.0L1149.5,656.3L1156.0,688.8L1160.9,713.2L1169.0,729.5L1173.9,753.9L1177.2,802.8L1182.1,851.6L1186.1,900.0L1188.3,936.3L1193.9,973.9L1201.4,1002.1L1207.0,1039.6L1216.4,1045.3L1222.1,1058.4L1225.8,1086.6L1235.2,1086.6L1242.7,1105.4L1250.2,1124.1L1253.0,1127.0L1259.5,1119.0L1266.0,1140.0L1272.6,1151.7L1279.1,1164.7L1285.6,1151.7" stroke="#35a36a" stroke-width="4.8"/>
<path d="M716.0,1146.0L727.0,1133.0L740.0,1116.0L749.0,1100.0L756.0,1086.0L762.0,1072.0L767.0,1054.0L771.0,1032.0L775.0,1004.0L778.0,984.0L780.5,962.0L782.4,947.9L786.9,902.8L792.6,874.6L799.0,862.0L806.1,855.4L812.0,864.0L817.4,880.2L824.1,902.8L829.8,919.7L833.0,924.0L837.7,914.0L843.3,891.5L848.9,869.0L853.4,846.4L857.9,812.6L859.2,790.0L859.7,777.8L865.4,732.7L872.1,698.9L881.2,659.5L891.3,620.0L896.4,602.8L902.6,577.8L907.6,559.0L915.1,540.2L920.1,527.7L924.0,505.0L926.4,490.0L928.0,430.3L934.1,390.2L939.1,360.1L943.1,335.0L947.0,327.0L951.1,325.0L955.0,327.0L958.1,330.0L964.1,355.1L969.1,380.2L974.1,410.2L976.5,440.3L977.8,477.6L980.3,515.1L984.0,552.7L987.8,571.5L993.0,580.0L998.0,581.0L1002.3,575.7L1009.3,550.2L1018.5,527.0L1027.8,496.9L1037.1,469.0L1042.0,445.0L1045.2,422.7L1049.0,403.5L1054.1,393.4L1060.8,391.7L1064.2,369.7L1067.6,327.5L1071.0,285.2L1074.4,243.0L1079.4,209.2L1084.5,183.8L1089.0,174.0L1093.8,170.3L1098.0,174.0L1103.1,183.8L1108.2,217.6L1113.2,259.9L1116.6,302.1L1120.0,352.8L1123.4,386.6L1126.8,420.0L1129.2,435.5L1138.2,449.0L1145.7,467.1L1150.2,485.1L1154.7,507.7L1159.2,530.2L1165.2,545.2L1171.2,560.2L1174.2,575.3L1177.2,605.3L1180.2,627.8L1181.7,650.0L1185.3,688.8L1188.6,737.7L1191.8,778.3L1198.3,802.8L1204.9,835.3L1208.1,854.8L1216.3,864.6L1222.1,880.0L1227.7,902.5L1239.0,917.6L1246.5,945.7L1250.2,955.1L1259.5,961.2L1267.7,977.4L1274.2,988.8L1284.0,993.7L1290.5,1008.4L1295.4,1018.1L1306.8,1026.3L1314.9,1036.1L1323.0,1041.0L1331.2,1054.0L1337.7,1063.7L1354.0,1070.3L1360.5,1081.6L1370.3,1089.8L1378.4,1099.6L1384.9,1117.5L1391.4,1104.4L1397.9,1127.2L1407.7,1140.3L1414.2,1125.6L1422.4,1128.9L1430.5,1135.4L1437.0,1115.8L1443.5,1133.7L1450.0,1154.9L1458.2,1125.6L1464.7,1140.3L1469.6,1143.5L1474.5,1168.0L1481.0,1159.8L1487.5,1184.2L1497.2,1132.1" stroke="#a679dc" stroke-width="4.8"/>
</g>
<line x1="949.8" y1="270.7" x2="949.8" y2="955" class="vd"/>
<line x1="1094" y1="136.5" x2="1094" y2="964" class="vd"/>
<path d="M240,57.0H266.5M1898.0,57.0H1871.0M240,203.1H266.5M1898.0,203.1H1871.0M240,349.1H266.5M1898.0,349.1H1871.0M240,495.2H266.5M1898.0,495.2H1871.0M240,641.2H266.5M1898.0,641.2H1871.0M240,787.3H266.5M1898.0,787.3H1871.0M240,933.4H266.5M1898.0,933.4H1871.0M240,1079.4H266.5M1898.0,1079.4H1871.0M240,1225.5H266.5M1898.0,1225.5H1871.0M240,1371.5H266.5M1898.0,1371.5H1871.0M266.5,1371.54V1396.54M266.5,57.0V82.0M592.8,1371.54V1396.54M592.8,57.0V82.0M919.1,1371.54V1396.54M919.1,57.0V82.0M1245.4,1371.54V1396.54M1245.4,57.0V82.0M1571.7,1371.54V1396.54M1571.7,57.0V82.0M1898.0,1371.54V1396.54M1898.0,57.0V82.0" stroke="#000" stroke-width="4" fill="none"/>
<path d="M252,159.1H266.5M252,133.4H266.5M252,115.1H266.5M252,101.0H266.5M252,89.4H266.5M252,79.6H266.5M252,71.2H266.5M252,63.7H266.5M252,305.2H266.5M252,279.4H266.5M252,261.2H266.5M252,247.0H266.5M252,235.5H266.5M252,225.7H266.5M252,217.2H266.5M252,209.7H266.5M252,451.2H266.5M252,425.5H266.5M252,407.2H266.5M252,393.1H266.5M252,381.5H266.5M252,371.7H266.5M252,363.3H266.5M252,355.8H266.5M252,597.3H266.5M252,571.6H266.5M252,553.3H266.5M252,539.1H266.5M252,527.6H266.5M252,517.8H266.5M252,509.3H266.5M252,501.9H266.5M252,743.3H266.5M252,717.6H266.5M252,699.4H266.5M252,685.2H266.5M252,673.6H266.5M252,663.9H266.5M252,655.4H266.5M252,647.9H266.5M252,889.4H266.5M252,863.7H266.5M252,845.4H266.5M252,831.3H266.5M252,819.7H266.5M252,809.9H266.5M252,801.5H266.5M252,794.0H266.5M252,1035.5H266.5M252,1009.7H266.5M252,991.5H266.5M252,977.3H266.5M252,965.8H266.5M252,956.0H266.5M252,947.5H266.5M252,940.0H266.5M252,1181.5H266.5M252,1155.8H266.5M252,1137.5H266.5M252,1123.4H266.5M252,1111.8H266.5M252,1102.0H266.5M252,1093.6H266.5M252,1086.1H266.5M252,1327.6H266.5M252,1301.9H266.5M252,1283.6H266.5M252,1269.4H266.5M252,1257.9H266.5M252,1248.1H266.5M252,1239.6H266.5M252,1232.2H266.5M429.7,1371.54V1383.54M756.0,1371.54V1383.54M1082.3,1371.54V1383.54M1408.6,1371.54V1383.54M1734.9,1371.54V1383.54" stroke="#000" stroke-width="3.5" fill="none"/>
<text x="206.1" y="77.0" font-size="55.3" text-anchor="end">10</text>
<text x="204.8" y="53.7" font-size="36.5">0</text>
<text x="192.3" y="223.1" font-size="55.3" text-anchor="end">10</text>
<text x="190.5" y="199.8" font-size="36.5">-1</text>
<text x="192.3" y="369.1" font-size="55.3" text-anchor="end">10</text>
<text x="190.5" y="345.8" font-size="36.5">-2</text>
<text x="192.3" y="515.2" font-size="55.3" text-anchor="end">10</text>
<text x="190.5" y="491.9" font-size="36.5">-3</text>
<text x="192.3" y="661.2" font-size="55.3" text-anchor="end">10</text>
<text x="190.5" y="637.9" font-size="36.5">-4</text>
<text x="192.3" y="807.3" font-size="55.3" text-anchor="end">10</text>
<text x="190.5" y="784.0" font-size="36.5">-5</text>
<text x="192.3" y="953.4" font-size="55.3" text-anchor="end">10</text>
<text x="190.5" y="930.1" font-size="36.5">-6</text>
<text x="192.3" y="1099.4" font-size="55.3" text-anchor="end">10</text>
<text x="190.5" y="1076.1" font-size="36.5">-7</text>
<text x="192.3" y="1245.5" font-size="55.3" text-anchor="end">10</text>
<text x="190.5" y="1222.2" font-size="36.5">-8</text>
<text x="192.3" y="1391.5" font-size="55.3" text-anchor="end">10</text>
<text x="190.5" y="1368.2" font-size="36.5">-9</text>
<text transform="translate(268.50,1458.30) scale(0.9850,1)" font-size="56" text-anchor="middle">1549.6</text>
<text transform="translate(594.80,1458.30) scale(0.9850,1)" font-size="56" text-anchor="middle">1549.8</text>
<text transform="translate(921.10,1458.30) scale(0.9850,1)" font-size="56" text-anchor="middle">1550.0</text>
<text transform="translate(1247.40,1458.30) scale(0.9850,1)" font-size="56" text-anchor="middle">1550.2</text>
<text transform="translate(1573.70,1458.30) scale(0.9850,1)" font-size="56" text-anchor="middle">1550.4</text>
<text transform="translate(1900.00,1458.30) scale(0.9850,1)" font-size="56" text-anchor="middle">1550.6</text>
<text transform="translate(1081.20,1564.50) scale(1.0143,1)" font-size="68" text-anchor="middle">Wavelength/nm</text>
<text transform="translate(83.20,697.50) rotate(-90) scale(0.9800,1)" font-size="70" text-anchor="middle">Intensity/a.u.</text>
<text transform="translate(414.50,239.80)" font-size="68.6" text-anchor="start">Rayleigh light</text>
<text transform="translate(1319.50,214.30)" font-size="68.6" text-anchor="start">Stokes light</text>
<text transform="translate(330.00,750.80)" font-size="68.6" text-anchor="start">anti-Stokes light</text>
<text transform="translate(922.30,1007.80) scale(0.9900,1)" font-size="57" text-anchor="start">0.086 nm</text>
<line x1="800.4" y1="264.0" x2="896.0" y2="292.7" stroke="#222" stroke-width="2.1"/><path d="M927.2,302.1L891.8,299.6L896.3,284.7Z" fill="#000"/>
<line x1="1304.0" y1="206.8" x2="1149.4" y2="185.2" stroke="#222" stroke-width="2.1"/><path d="M1119.5,181.0L1152.5,177.7L1150.3,193.2Z" fill="#000"/>
<line x1="693.0" y1="782.0" x2="751.4" y2="820.8" stroke="#222" stroke-width="2.1"/><path d="M775.5,836.9L745.4,826.2L754.0,813.2Z" fill="#000"/>
<line x1="1020.0" y1="925.0" x2="986.5" y2="925.0" stroke="#666" stroke-width="3"/><path d="M953.5,925.0L988.5,916.0L988.5,934.0Z" fill="#000"/>
<line x1="1020.0" y1="925.0" x2="1055.0" y2="925.0" stroke="#666" stroke-width="3"/><path d="M1088.0,925.0L1053.0,934.0L1053.0,916.0Z" fill="#000"/>
<rect x="1496.2" y="353" width="349" height="355.8" fill="#fff" stroke="#666" stroke-width="2.2"/>
<line x1="1502.6" y1="391.2" x2="1632.3" y2="391.2" stroke="#505050" stroke-width="5.5"/>
<text transform="translate(1643.60,411.50)" font-size="56" text-anchor="start">100 mW</text>
<line x1="1502.6" y1="460.8" x2="1632.3" y2="460.8" stroke="#c4474b" stroke-width="5.5"/>
<text transform="translate(1643.60,481.10)" font-size="56" text-anchor="start">150 mW</text>
<line x1="1502.6" y1="530.4" x2="1632.3" y2="530.4" stroke="#1f5fe6" stroke-width="5.5"/>
<text transform="translate(1643.60,550.70)" font-size="56" text-anchor="start">200 mW</text>
<line x1="1502.6" y1="600.0" x2="1632.3" y2="600.0" stroke="#4c9470" stroke-width="5.5"/>
<text transform="translate(1643.60,620.30)" font-size="56" text-anchor="start">250 mW</text>
<line x1="1502.6" y1="669.6" x2="1632.3" y2="669.6" stroke="#a772de" stroke-width="5.5"/>
<text transform="translate(1643.60,689.90)" font-size="56" text-anchor="start">300 mW</text>
</svg></body></html>
